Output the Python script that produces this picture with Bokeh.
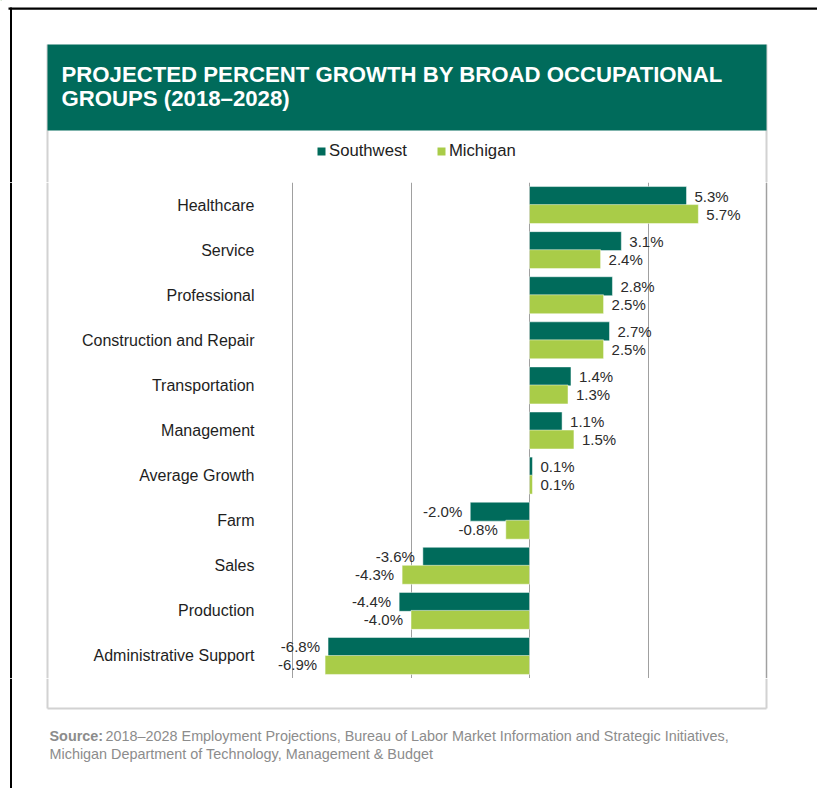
from bokeh.plotting import figure
from bokeh.layouts import column
from bokeh.models import (ColumnDataSource, FactorRange, FixedTicker, Grid, Range1d,
                          Span, Legend, LegendItem)
from bokeh.transform import dodge
from bokeh.core.properties import value
from bokeh.embed import file_html
from bokeh.resources import INLINE

# ---------------- data ----------------
categories = ["Healthcare", "Service", "Professional", "Construction and Repair",
              "Transportation", "Management", "Average Growth", "Farm", "Sales",
              "Production", "Administrative Support"]
southwest = [5.3, 3.1, 2.8, 2.7, 1.4, 1.1, 0.1, -2.0, -3.6, -4.4, -6.8]
michigan = [5.7, 2.4, 2.5, 2.5, 1.3, 1.5, 0.1, -0.8, -4.3, -4.0, -6.9]
series_names = ["Southwest", "Michigan"]
x_ticks = [-8, -4, 0, 4, 8]
title_lines = ["PROJECTED PERCENT GROWTH BY BROAD OCCUPATIONAL",
               "GROUPS (2018\u20132028)"]
source_bold = "Source:"
source_lines = ["2018\u20132028 Employment Projections, Bureau of Labor Market Information and Strategic Initiatives,",
                "Michigan Department of Technology, Management & Budget"]

DARK = "#006B5B"
LIGHT = "#A9CC48"
BOXC = "#d2d2d2"
GRIDC = "#a0a0a0"
FONT = "Liberation Sans"

W = 817
TOP_H, MID_H, BOT_H = 182, 496, 110     # rows of the page
ZERO_PX, PX_PER_UNIT = 529, 29.625      # layout of the value axis on the page


def px_to_val(px):
    return (px - ZERO_PX) / PX_PER_UNIT


def bare(fig):
    fig.outline_line_color = None
    fig.background_fill_color = "white"
    fig.border_fill_color = "white"
    fig.min_border = 0
    return fig


# ---------------- top: frame lines, header, legend ----------------
top = bare(figure(width=W, height=TOP_H, output_backend="svg", toolbar_location=None,
                  x_range=Range1d(0, W), y_range=Range1d(TOP_H, 0),
                  x_axis_type=None, y_axis_type=None))
top.quad(left=[8, 9.5], right=[W, 11.5], top=[7, 7], bottom=[9.3, TOP_H],
         fill_color="black", line_color=None)
top.segment(x0=[47, 766], x1=[47, 766], y0=[44, 44], y1=[TOP_H, TOP_H],
            line_color=BOXC, line_width=2)
top.quad(left=[47], right=[766], top=[44], bottom=[130], fill_color=DARK, line_color=None)
top.text(x=[61, 61], y=[73.5, 98], text=title_lines, text_font=value(FONT),
         text_font_size="22.2px", text_font_style="bold", text_color="white",
         text_baseline="middle")

# legend swatches: renderers kept outside the visible range of this panel
lg_sw = top.hbar(y=[-500], left=[0], right=[1], height=1, fill_color=DARK, line_color=None)
lg_mi = top.hbar(y=[-500], left=[0], right=[1], height=1, fill_color=LIGHT, line_color=None)
legend = Legend(items=[LegendItem(label=series_names[0], renderers=[lg_sw]),
                       LegendItem(label=series_names[1], renderers=[lg_mi])],
                orientation="horizontal", location=(316, TOP_H - 161),
                glyph_width=10, glyph_height=10, label_standoff=3, spacing=29,
                padding=0, margin=0, border_line_color=None,
                background_fill_alpha=0, label_text_font=FONT,
                label_text_font_size="16.7px", label_text_color="#222222",
                label_height=18)
top.add_layout(legend, "center")

# ---------------- middle: the bars ----------------
mid = bare(figure(width=W, height=MID_H, output_backend="svg", toolbar_location=None,
                  x_range=Range1d(px_to_val(0), px_to_val(W)),
                  y_range=FactorRange(*reversed(categories)),
                  x_axis_type=None, y_axis_type=None))

mid.add_layout(Span(location=px_to_val(766), dimension="height",
                    line_color=BOXC, line_width=2, level="underlay"))
mid.add_layout(Grid(dimension=0, ticker=FixedTicker(ticks=x_ticks),
                    grid_line_color=GRIDC, grid_line_width=1))
mid.add_layout(Span(location=px_to_val(10.5), dimension="height",
                    line_color="black", line_width=2))
mid.add_layout(Span(location=px_to_val(47), dimension="height",
                    line_color=BOXC, line_width=2))

src = ColumnDataSource(dict(
    cat=categories, sw=southwest, mi=michigan,
    sw_t=[f"{v:.1f}%" for v in southwest],
    mi_t=[f"{v:.1f}%" for v in michigan],
    sw_align=["left" if v >= 0 else "right" for v in southwest],
    mi_align=["left" if v >= 0 else "right" for v in michigan],
    sw_off=[8 if v >= 0 else -8 for v in southwest],
    mi_off=[8 if v >= 0 else -8 for v in michigan],
    lab_x=[x_ticks[0]] * len(categories),
))

mid.hbar(y=dodge("cat", 0.2, range=mid.y_range), left=0, right="sw", height=0.42,
         source=src, fill_color=DARK, line_color="white", line_width=0.8, line_alpha=0.6)
mid.hbar(y=dodge("cat", -0.2, range=mid.y_range), left=0, right="mi", height=0.42,
         source=src, fill_color=LIGHT, line_color="white", line_width=0.8, line_alpha=0.6)

mid.text(x="sw", y=dodge("cat", 0.2, range=mid.y_range), text="sw_t", source=src,
         text_align="sw_align", x_offset="sw_off", text_baseline="middle",
         text_font=value(FONT), text_font_size="15px", text_color="#2b2b2b")
mid.text(x="mi", y=dodge("cat", -0.2, range=mid.y_range), text="mi_t", source=src,
         text_align="mi_align", x_offset="mi_off", text_baseline="middle",
         text_font=value(FONT), text_font_size="15px", text_color="#2b2b2b")

# category labels, right-aligned left of the plotting area
mid.text(x="lab_x", y="cat", text="cat", source=src, x_offset=-38,
         text_align="right", text_baseline="middle",
         text_font=value(FONT), text_font_size="16px", text_color="#1e1e1e")

# ---------------- bottom: box end, source ----------------
bot = bare(figure(width=W, height=BOT_H, output_backend="svg", toolbar_location=None,
                  x_range=Range1d(0, W), y_range=Range1d(788, TOP_H + MID_H),
                  x_axis_type=None, y_axis_type=None))
bot.quad(left=[9.5], right=[11.5], top=[TOP_H + MID_H], bottom=[788],
         fill_color="black", line_color=None)
bot.segment(x0=[47, 766, 47], x1=[47, 766, 766], y0=[TOP_H + MID_H, TOP_H + MID_H, 708],
            y1=[708, 708, 708], line_color=BOXC, line_width=2)
bot.text(x=[49], y=[735], text=[source_bold], text_font=value(FONT),
         text_font_size="14.4px", text_font_style="bold", text_color="#8c8c8c",
         text_baseline="middle")
bot.text(x=[105, 49], y=[735, 753], text=source_lines, text_font=value(FONT),
         text_font_size="14.4px", text_color="#8c8c8c", text_baseline="middle")

layout = column(top, mid, bot, spacing=0)
open("out.html", "w").write(file_html(layout, INLINE))
